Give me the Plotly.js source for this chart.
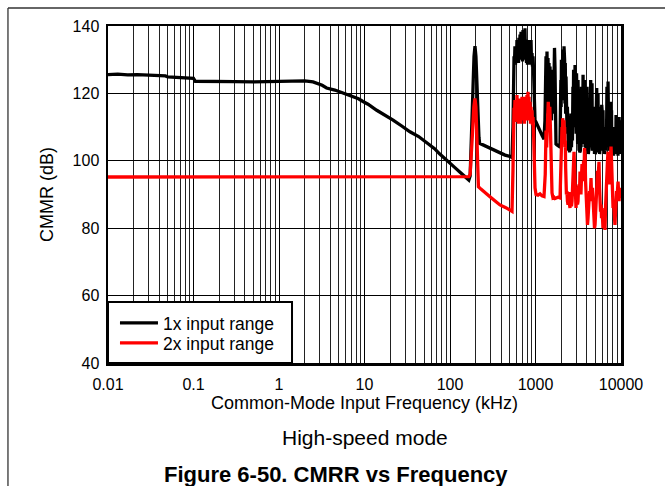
<!DOCTYPE html>
<html>
<head>
<meta charset="utf-8">
<script src="https://cdn.plot.ly/plotly-3.0.1.min.js"></script>
<style>
html,body{margin:0;padding:0;background:#fff;}
#chart{width:665px;height:486px;}
</style>
</head>
<body>
<div id="chart"></div>
<script>
// ---- data ----
const seriesNames = ['1x input range', '2x input range'];

// 1x input range, part A: frequency (kHz) and CMRR (dB), up to ~1.9 MHz
const freq1xA = [
  0.01, 0.013, 0.017, 0.022, 0.03, 0.04, 0.047, 0.05, 0.07, 0.09,
  0.1, 0.105, 0.15, 0.2, 0.3, 0.5, 0.7, 1, 1.5, 2,
  2.5, 2.8, 3.2, 3.6, 4.5, 5.6, 7, 8.5, 9.6, 11,
  13.9, 17, 21.6, 27, 34, 43, 53.5, 66, 76, 90,
  100, 115, 131, 150, 166, 172, 180, 186, 191, 196,
  201, 206, 212, 218, 222, 240, 260, 291, 330, 384,
  440, 503, 531, 545, 552, 561, 568, 575, 583, 591,
  599, 607, 615, 624, 632, 640, 650, 659, 668, 677,
  686, 695, 705, 714, 723, 733, 743, 753, 763, 774,
  785, 795, 806, 817, 828, 840, 851, 862, 874, 886,
  898, 910, 922, 935, 948, 960, 975, 987, 1014, 1040,
  1069, 1099, 1129, 1160, 1191, 1224, 1257, 1290, 1310, 1327,
  1345, 1363, 1381, 1400, 1420, 1438, 1458, 1478, 1498, 1518,
  1540, 1560, 1582, 1603, 1624, 1646, 1668, 1690, 1712, 1737,
  1785, 1833, 1880, 1935
];
const cmrr1xA = [
  125.6, 125.7, 125.5, 125.6, 125.4, 125.3, 125.2, 124.9, 124.8, 124.6,
  124.5, 123.6, 123.5, 123.4, 123.5, 123.4, 123.5, 123.6, 123.5, 123.7,
  123.4, 123.0, 122.4, 121.6, 121.0, 120.1, 119.3, 118.4, 117.6, 116.8,
  115.0, 113.8, 112.1, 110.4, 108.6, 107.2, 105.5, 103.6, 102.0, 100.2,
  99.2, 97.9, 96.6, 95.4, 94.3, 95.5, 108, 122, 131, 134,
  131, 122, 112, 107, 105.2, 104.8, 104.3, 103.7, 103.0, 102.2,
  101.7, 101.3, 101.0, 110, 126, 131, 129, 134, 128.5, 133,
  129, 135.8, 130, 134, 129, 136.5, 130, 137.5, 131, 138.3,
  130.5, 136, 129.5, 138.8, 131, 137, 130, 139.3, 131, 136,
  129, 135, 128.5, 134, 129, 135.8, 128.5, 133, 128.5, 135.8,
  128.8, 132, 128, 131, 127, 122, 114, 112, 111.5, 110.8,
  110.2, 109.4, 108.8, 108.2, 107.6, 107.0, 106.4, 112, 124, 131,
  118, 132.4, 114, 130.5, 120, 129, 113, 128, 118, 127,
  112, 126, 116, 127, 114, 130, 133.5, 128, 112, 105,
  104.7, 104.5, 104.3, 105
];
// 1x input range, part B: the spiky region from ~2 MHz to 10 MHz
const freq1xB = [
  1960, 1980, 1995, 2010, 2025, 2042, 2060, 2080, 2100, 2120,
  2138, 2155, 2172, 2190, 2210, 2230, 2252, 2275, 2298, 2320,
  2340, 2360, 2380, 2400, 2430, 2466, 2500, 2533, 2566, 2600,
  2636, 2673, 2705, 2740, 2765, 2790, 2815, 2840, 2870, 2900,
  2930, 2960, 2990, 3020, 3050, 3080, 3110, 3142, 3170, 3200,
  3230, 3260, 3290, 3316, 3350, 3380, 3415, 3450, 3485, 3520,
  3560, 3600, 3640, 3680, 3720, 3760, 3800, 3850, 3895, 3940,
  3985, 4030, 4070, 4115, 4150, 4180, 4220, 4260, 4300, 4340,
  4380, 4420, 4460, 4500, 4540, 4583, 4625, 4670, 4710, 4750,
  4800, 4850, 4900, 4970, 5010, 5050, 5105, 5150, 5200, 5250,
  5300, 5340, 5387, 5430, 5480, 5530, 5580, 5630, 5686, 5740,
  5800, 5870, 5950, 6000, 6050, 6100, 6160, 6220, 6280, 6340,
  6400, 6450, 6500, 6590, 6680, 6760, 6850, 6900, 6950, 7000,
  7053, 7100, 7150, 7200, 7250, 7300, 7350, 7400, 7444, 7500,
  7550, 7600, 7650, 7700, 7750, 7800, 7856, 7910, 7960, 8010,
  8070, 8180, 8290, 8400, 8500, 8560, 8620, 8690, 8750, 8820,
  8900, 8950, 9000, 9080, 9150, 9220, 9300, 9400, 9500, 9570,
  9650, 9700, 9746, 9810, 9870, 9940, 10000
];
const cmrr1xB = [
  112, 124, 116, 130, 120, 128, 118, 133, 122, 131,
  119, 134, 121, 130, 117, 129, 114, 125, 110, 122,
  108, 116, 104, 110, 103, 108, 102.5, 110, 103, 114,
  104, 112, 106, 122, 112, 127, 110, 125, 112, 128.4,
  110, 124, 108, 126, 106, 120, 105, 124, 104, 116,
  103, 118, 102.5, 106, 103, 112, 104, 122, 106, 120,
  108, 125.5, 106, 122, 105, 124, 104, 120, 103, 122,
  104, 116, 103, 112, 102, 106, 104, 118, 104, 122,
  106, 124, 105, 120, 104, 123, 103, 118, 104, 116,
  103, 110, 102, 108, 102, 106, 103, 116, 121.6, 105,
  119, 104, 120, 103, 116, 102.5, 112, 102, 106, 103,
  108, 104, 116.6, 104, 114, 103, 115, 103, 110, 102,
  108, 102, 104, 103, 110, 104, 122, 106, 121, 105,
  123.5, 104, 118, 104, 116, 103, 110, 104, 114, 105,
  117.5, 104, 114, 103, 115, 104, 110, 103, 108, 102,
  104, 101.5, 104, 102, 110, 103, 108, 103, 113.6, 104,
  110, 102, 112, 103, 108, 101.5, 110, 103, 113, 104,
  109, 102, 112, 103, 108, 102, 104
];

// 2x input range, part A: frequency (kHz) and CMRR (dB), up to ~1.9 MHz
const freq2xA = [
  0.01, 0.03, 0.1, 0.3, 1, 3, 10, 30, 60, 100,
  140, 166, 172, 178, 184, 190, 196, 201, 206, 211,
  215, 230, 260, 291, 340, 384, 450, 503, 531, 545,
  552, 561, 568, 575, 583, 591, 599, 607, 615, 624,
  632, 640, 650, 659, 668, 677, 686, 695, 705, 714,
  723, 733, 743, 753, 763, 774, 785, 795, 806, 817,
  828, 840, 851, 862, 874, 886, 898, 910, 922, 935,
  948, 960, 975, 987, 1014, 1069, 1129, 1191, 1257, 1300,
  1327, 1350, 1380, 1410, 1440, 1470, 1500, 1530, 1560, 1600,
  1646, 1690, 1750, 1833, 1935
];
const cmrr2xA = [
  95.2, 95.2, 95.2, 95.2, 95.2, 95.2, 95.3, 95.3, 95.3, 95.4,
  95.4, 95.3, 96.0, 101, 109, 116, 118.5, 116, 108, 98,
  92.3, 91.6, 90.6, 89.4, 88.0, 86.9, 86.1, 85.4, 85.0, 97,
  112, 115.7, 113, 118, 112, 117, 111.5, 119.5, 113, 117,
  111, 118, 112, 118.5, 111, 117, 112, 119, 113.5, 118,
  112, 117, 111, 119, 113, 118, 112, 119.5, 113, 120.5,
  114, 119, 112, 117.5, 111, 116, 111, 115, 110.6, 113,
  109, 104, 96, 92, 90, 89.8, 90.2, 89.6, 89.4, 96,
  109, 104, 111, 117.5, 112, 116, 108, 97, 90.5, 89,
  89.2, 88.8, 89, 89.2, 89
];
// 2x input range, part B: the spiky region from ~2 MHz to 10 MHz
const freq2xB = [
  1965, 1990, 2015, 2042, 2060, 2080, 2100, 2120, 2138, 2155,
  2172, 2190, 2210, 2230, 2252, 2275, 2300, 2330, 2365, 2400,
  2430, 2466, 2500, 2533, 2566, 2600, 2636, 2673, 2705, 2740,
  2780, 2821, 2860, 2900, 2940, 2978, 3020, 3060, 3100, 3142,
  3185, 3230, 3270, 3316, 3360, 3400, 3450, 3500, 3550, 3600,
  3650, 3694, 3745, 3800, 3850, 3899, 3950, 4000, 4055, 4115,
  4170, 4230, 4290, 4342, 4400, 4460, 4520, 4583, 4640, 4700,
  4770, 4837, 4900, 4970, 5035, 5105, 5180, 5250, 5320, 5400,
  5470, 5530, 5610, 5686, 5760, 5840, 5920, 6000, 6080, 6160,
  6245, 6333, 6420, 6500, 6590, 6683, 6760, 6850, 6950, 7053,
  7150, 7250, 7350, 7444, 7550, 7650, 7750, 7856, 7960, 8070,
  8180, 8291, 8400, 8500, 8630, 8750, 8870, 8990, 9110, 9234,
  9360, 9490, 9620, 9746, 9870, 10000
];
const cmrr2xB = [
  94, 104, 108, 110, 106, 112.6, 108, 111, 106, 112,
  105, 110, 104, 106, 98, 94, 90, 91, 88, 87,
  90, 90.7, 87, 86, 90, 89, 86.5, 88, 92, 97,
  100, 102.7, 98, 95, 89, 86, 90, 91, 87, 88,
  92, 93, 90, 96.8, 92, 90, 95, 99, 94, 95,
  100, 96, 103.8, 101, 94, 90, 86, 84, 81, 83,
  86, 89, 91, 88, 92, 94.9, 90, 88, 92, 89,
  85, 82, 80, 81, 84, 88, 92, 95, 97, 95,
  98, 99.7, 92, 88, 84.9, 87, 83, 86, 82, 80,
  83, 81, 80, 79.5, 86, 92, 95, 97.9, 100, 102.7,
  97, 93, 97, 99, 101, 104.2, 100, 94, 89, 86,
  88, 84, 82, 81, 85, 88, 91, 89, 92, 93.8,
  91, 88, 91, 89, 92, 89
];

// axis ticks
const xTickVals = [0.01, 0.1, 1, 10, 100, 1000, 10000];
const xTickText = ['0.01', '0.1', '1', '10', '100', '1000', '10000'];
const yTickVals = [40, 60, 80, 100, 120, 140];
const yTickText = ['40', '60', '80', '100', '120', '140'];

// minor log grid positions (2..9 in each decade)
const xMinorVals = [];
for (let d = -2; d < 4; d++) {
  for (let k = 2; k <= 9; k++) xMinorVals.push(k * Math.pow(10, d));
}

const FONT = 'Liberation Sans, Arial, Helvetica, sans-serif';

const traces = [
  {x: freq1xA.concat(freq1xB), y: cmrr1xA.concat(cmrr1xB), name: seriesNames[0],
   type: 'scatter', mode: 'lines', legend: 'legend',
   line: {color: '#000000', width: 3.3}},
  {x: freq2xA.concat(freq2xB), y: cmrr2xA.concat(cmrr2xB), name: seriesNames[1],
   type: 'scatter', mode: 'lines', legend: 'legend2',
   line: {color: '#ff0000', width: 3.3}}
];

const legendCommon = {
  xanchor: 'left', yanchor: 'middle', bgcolor: 'rgba(0,0,0,0)', borderwidth: 0,
  itemwidth: 38, font: {family: FONT, size: 17.5, color: '#000'}
};

const layout = {
  width: 665, height: 486,
  margin: {l: 108, r: 44, t: 26, b: 123, pad: 0},
  paper_bgcolor: '#ffffff', plot_bgcolor: '#ffffff',
  font: {family: FONT, size: 16, color: '#000'},
  showlegend: true,
  legend: Object.assign({x: 0.0136, y: 0.1187}, legendCommon),
  legend2: Object.assign({x: 0.0136, y: 0.0593}, legendCommon),
  xaxis: {
    type: 'log', range: [-2, 4], autorange: false,
    tickmode: 'array', tickvals: xTickVals, ticktext: xTickText,
    showgrid: true, gridcolor: '#000', gridwidth: 1,
    minor: {tickmode: 'array', tickvals: xMinorVals, showgrid: true, gridcolor: '#222', gridwidth: 1, ticks: ''},
    showline: true, mirror: true, linecolor: '#000', linewidth: 2.5,
    ticks: '', zeroline: false, ticklabelstandoff: 5,
    tickfont: {family: FONT, size: 16, color: '#000'},
    title: {text: 'Common-Mode Input Frequency (kHz)', font: {family: FONT, size: 18, color: '#000'}, standoff: 4},
    automargin: false
  },
  yaxis: {
    range: [40, 140], autorange: false,
    tickmode: 'array', tickvals: yTickVals, ticktext: yTickText,
    showgrid: true, gridcolor: '#000', gridwidth: 1,
    showline: true, mirror: true, linecolor: '#000', linewidth: 2.5,
    ticks: '', zeroline: false, ticklabelstandoff: 3,
    tickfont: {family: FONT, size: 16, color: '#000'},
    title: {text: 'CMMR (dB)', font: {family: FONT, size: 18, color: '#000'}, standoff: 15},
    automargin: false
  },
  shapes: [
    // legend box
    {type: 'rect', xref: 'paper', yref: 'paper', x0: 0, x1: 0.3587, y0: 0, y1: 0.181,
     fillcolor: '#ffffff', line: {color: '#000', width: 2}, layer: 'above'},
    // outer page frame (top and left)
    {type: 'line', xref: 'paper', yref: 'paper', x0: -0.195, x1: 1.09, y0: 1.0534, y1: 1.0534,
     line: {color: '#333', width: 1.3}},
    {type: 'line', xref: 'paper', yref: 'paper', x0: -0.195, x1: -0.195, y0: 1.0534, y1: -0.4,
     line: {color: '#333', width: 1.3}}
  ],
  annotations: [
    {text: 'High-speed mode', xref: 'paper', yref: 'paper', x: 0.5, y: -0.2196,
     xanchor: 'center', yanchor: 'middle', showarrow: false,
     font: {family: FONT, size: 21, color: '#000'}},
    {text: '<b>Figure 6-50. CMRR vs Frequency</b>', xref: 'paper', yref: 'paper', x: 0.4444, y: -0.3323,
     xanchor: 'center', yanchor: 'middle', showarrow: false,
     font: {family: FONT, size: 22, color: '#000'}}
  ]
};

Plotly.newPlot('chart', traces, layout, {displayModeBar: false, staticPlot: true});
</script>
</body>
</html>
